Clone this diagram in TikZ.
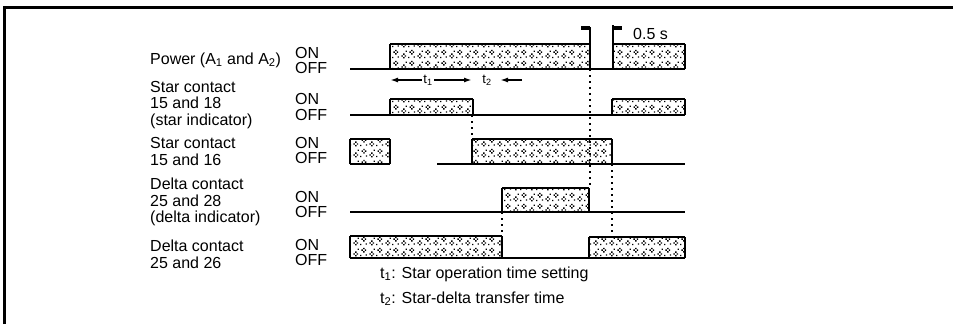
\documentclass[tikz,border=0pt]{standalone}
\usepackage{fontspec}
\setmainfont{Liberation Sans}
\usetikzlibrary{patterns,arrows.meta}

\pgfdeclarepatternformonly{speckle}{\pgfqpoint{0pt}{0pt}}{\pgfqpoint{16pt}{11pt}}{\pgfqpoint{16pt}{11pt}}{%
  \pgfpathrectangle{\pgfqpoint{1.5pt}{3.5pt}}{\pgfqpoint{1.5pt}{1.5pt}}%
  \pgfpathrectangle{\pgfqpoint{5pt}{3.5pt}}{\pgfqpoint{1.5pt}{1.5pt}}%
  \pgfpathrectangle{\pgfqpoint{3.3pt}{1.6pt}}{\pgfqpoint{1.5pt}{1.5pt}}%
  \pgfpathrectangle{\pgfqpoint{3.3pt}{5.4pt}}{\pgfqpoint{1.5pt}{1.5pt}}%
  \pgfpathrectangle{\pgfqpoint{10pt}{7.5pt}}{\pgfqpoint{1.5pt}{1.5pt}}%
  \pgfpathrectangle{\pgfqpoint{13.5pt}{7.5pt}}{\pgfqpoint{1.5pt}{1.5pt}}%
  \pgfpathrectangle{\pgfqpoint{11.8pt}{5.7pt}}{\pgfqpoint{1.5pt}{1.5pt}}%
  \pgfpathrectangle{\pgfqpoint{11.8pt}{9.3pt}}{\pgfqpoint{1.5pt}{1.5pt}}%
  \pgfpathrectangle{\pgfqpoint{8.5pt}{2pt}}{\pgfqpoint{1.3pt}{1.3pt}}%
  \pgfpathrectangle{\pgfqpoint{14.5pt}{2.5pt}}{\pgfqpoint{1.3pt}{1.3pt}}%
  \pgfpathrectangle{\pgfqpoint{6pt}{8.5pt}}{\pgfqpoint{1.3pt}{1.3pt}}%
  \pgfusepath{fill}%
}

\newcommand\sigbox[4]{% x1, x2, ytop, ybot
  \fill[pattern=speckle] (#1,#3) rectangle (#2,#4);
  \draw[topline] (#1,#3) -- (#2,#3);
  \draw[edge] (#1,#4) -- (#1,#3);
  \draw[edge] (#2,#4) -- (#2,#3);
}

\tikzset{
  lbl/.style={anchor=base west, inner sep=0pt, font=\fontsize{16}{17}\selectfont},
  onoff/.style={anchor=base west, inner sep=0pt, font=\fontsize{16}{15}\selectfont},
  small/.style={inner sep=1pt, fill=white, font=\fontsize{13}{13}\selectfont},
  frame/.style={line width=3pt},
  offline/.style={line width=1.7pt},
  topline/.style={line width=2.8pt},
  edge/.style={line width=1.4pt},
  vdot/.style={line width=1.6pt, dash pattern=on 2pt off 4pt},
  stub/.style={line width=3.5pt},
  dimarr/.style={line width=2pt, -{Latex[length=8pt,width=5pt]}}
}

\begin{document}
\begin{tikzpicture}[x=1pt,y=-1pt]
\useasboundingbox (0,0) rectangle (953,324);

% frame
\draw[frame] (4,324) -- (4,7) -- (953,7);

% left labels
\node[lbl] (p)   at (150,64)  {Power (A\textsubscript{1} and A\textsubscript{2})};
\node[lbl] (s1a) at (150,92)  {Star contact};
\node[lbl] (s1b) at (150,108) {15 and 18};
\node[lbl] (s1c) at (150,125) {(star indicator)};
\node[lbl] (s2a) at (150,148) {Star contact};
\node[lbl] (s2b) at (150,165) {15 and 16};
\node[lbl] (d1a) at (150,189) {Delta contact};
\node[lbl] (d1b) at (150,206) {25 and 28};
\node[lbl] (d1c) at (150,222) {(delta indicator)};
\node[lbl] (d2a) at (150,251) {Delta contact};
\node[lbl] (d2b) at (150,268) {25 and 26};

% ON / OFF
\node[onoff] (on1)  at (295,58)  {ON};
\node[onoff] (off1) at (295,73)  {OFF};
\node[onoff] (on2)  at (295,104) {ON};
\node[onoff] (off2) at (295,120) {OFF};
\node[onoff] (on3)  at (295,148) {ON};
\node[onoff] (off3) at (295,163) {OFF};
\node[onoff] (on4)  at (295,202) {ON};
\node[onoff] (off4) at (295,217) {OFF};
\node[onoff] (on5)  at (295,250) {ON};
\node[onoff] (off5) at (295,265) {OFF};

% dotted guide lines
\draw[vdot] (590,69) -- (590,188);
\draw[vdot] (472,115) -- (472,139);
\draw[vdot] (612,164) -- (612,237);
\draw[vdot] (502,212) -- (502,237);

% Row 1: power
\sigbox{390}{590}{44}{69}
\sigbox{613}{685}{44}{69}
\draw[offline] (350,69) -- (557,69);
\draw[line width=2.6pt] (557,69) -- (685,69);
\draw[line width=2pt] (590,27) -- (590,69);
\draw[line width=2pt] (613,25) -- (613,69);
\draw[stub] (581,28) -- (590,28);
\draw[stub] (613,28) -- (622,28);
\node[anchor=base west, inner sep=0pt, font=\fontsize{16}{16}\selectfont] (half) at (633,39) {0.5 s};

% t1 / t2 dimension
\coordinate (t1a) at (390,80);
\coordinate (t1b) at (472,80);
\coordinate (t2b) at (500,80);
\coordinate (t2c) at (522,80);
\draw[dimarr] (428,80) -- (t1a);
\draw[dimarr] (428,80) -- (t1b);
\node[small] (t1) at (428,80) {t\textsubscript{1}};
\draw[dimarr] (t2c) -- (t2b);
\node[small] (t2) at (487,80) {t\textsubscript{2}};

% Row 2: star 15-18
\sigbox{390}{473}{99}{115}
\sigbox{612}{685}{99}{115}
\draw[offline] (350,115) -- (685,115);

% Row 3: star 15-16
\sigbox{350}{390}{139}{164}
\sigbox{472}{612}{139}{164}
\draw[offline] (350,164) -- (390,164);
\draw[offline] (437,164) -- (685,164);

% Row 4: delta 25-28
\sigbox{502}{589}{188}{212}
\draw[offline] (350,212) -- (605,212);
\draw[line width=2.6pt] (605,212) -- (685,212);

% Row 5: delta 25-26
\sigbox{350}{502}{236}{258}
\sigbox{589}{685}{237}{258}
\draw[offline] (350,258) -- (685,258);

% legend
\node[lbl] (leg1) at (380,278) {t\textsubscript{1}: Star operation time setting};
\node[lbl] (leg2) at (380,303) {t\textsubscript{2}: Star-delta transfer time};
\end{tikzpicture}
\end{document}
